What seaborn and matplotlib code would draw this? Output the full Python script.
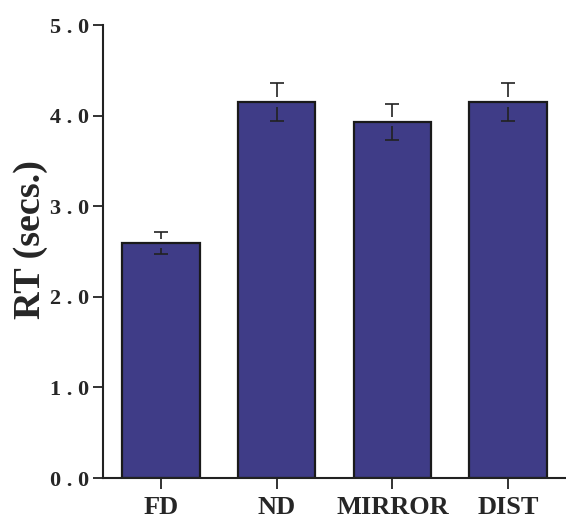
import matplotlib
matplotlib.use("Agg")
import matplotlib.pyplot as plt
import seaborn as sns
import numpy as np

# datos
categories = ["FD", "ND", "MIRROR", "DIST"]
rt_means = [2.59, 4.15, 3.93, 4.15]
rt_errors = [0.12, 0.21, 0.20, 0.21]
y_ticks = [0.0, 1.0, 2.0, 3.0, 4.0, 5.0]

sns.set_theme(style="white")
plt.rcParams["font.family"] = ["Liberation Serif", "DejaVu Serif"]
plt.rcParams["font.weight"] = "bold"

fig = plt.figure(figsize=(5.66, 5.21), dpi=100)
ax = fig.add_axes([0.182, 0.0825, 0.818, 0.8695])

sns.barplot(x=categories, y=rt_means, color="#3f3c87", saturation=1,
            edgecolor="#1a1a1a", linewidth=1.6, width=0.67, errorbar=None, ax=ax)

# barras de error: tapas + líneas con un pequeño hueco junto al borde de la barra
xpos = np.arange(len(categories))
means = np.array(rt_means)
errs = np.array(rt_errors)
gap = 0.05
ax.errorbar(xpos, means, yerr=errs, fmt="none", ecolor="#222222",
            elinewidth=0, capsize=4.7, capthick=1.2, zorder=5)
ax.vlines(xpos, means + gap, means + errs, color="#222222", lw=1.2, zorder=5)
ax.vlines(xpos, means - errs, means - gap, color="#222222", lw=1.2, zorder=5)

ax.set_xlim(-0.5, 3.5)
ax.set_ylim(0, 5.0)
ax.set_yticks(y_ticks)
ax.set_yticklabels([" . ".join(f"{t:.1f}".split(".")) for t in y_ticks],
                   fontsize=16, fontweight="bold")
ax.set_xticks(xpos)
ax.set_xticklabels(categories, fontsize=19, fontweight="bold")
ax.set_ylabel("RT (secs.)", fontsize=27.5, fontweight="bold")
ax.yaxis.set_label_coords(-0.118, 0.527)
ax.set_xlabel("")

sns.despine(ax=ax)
for side in ["left", "bottom"]:
    ax.spines[side].set_linewidth(1.5)
    ax.spines[side].set_color("#222222")
ax.tick_params(axis="y", direction="out", length=7, width=1.3, color="#222222",
               pad=3, left=True)
ax.tick_params(axis="x", direction="out", length=8, width=1.3, color="#222222",
               pad=5, bottom=True)
ax.grid(False)

fig.savefig("out.png", dpi=100)
